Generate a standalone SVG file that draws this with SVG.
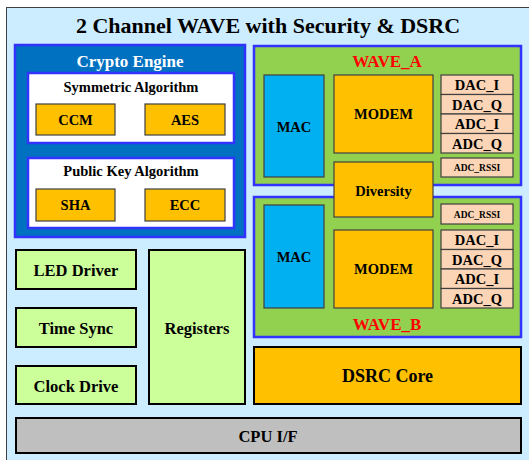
<svg xmlns="http://www.w3.org/2000/svg" width="529" height="460" viewBox="0 0 529 460" font-family="'Liberation Serif', 'Times New Roman', serif">
<style>
text{font-family:'Liberation Serif','Times New Roman',serif;font-weight:bold;text-anchor:middle;dominant-baseline:central;fill:#000}
.grp{stroke:#3333FF;stroke-width:2.5}
.blk{stroke:#000;stroke-width:2}
.thin{stroke:#404040;stroke-width:1.2}
.org{fill:#FFC000}
.lg{fill:#CCFF99}
.pch{fill:#FBD5B5}
.t13{font-size:14.5px}
.t14{font-size:16.5px}
.rs{font-size:9.5px}
</style>
<rect width="529" height="460" fill="#fff"/>
<rect x="6.5" y="7.5" width="530" height="460" fill="#CCECFF" stroke="#404040" stroke-width="1"/>
<text x="268" y="25" font-size="22">2 Channel WAVE  with Security &amp; DSRC</text>
<g id="crypto">
<rect x="15" y="45" width="230" height="192" fill="#0070C0" class="grp"/>
<text x="130" y="61" font-size="17" style="fill:#fff">Crypto Engine</text>
</g>
<g id="symmetric">
<rect x="28" y="73" width="206" height="70" fill="#fff" class="grp"/>
<text x="131" y="87" class="t13">Symmetric  Algorithm</text>
</g>
<g id="ccm"><rect x="36" y="104" width="79" height="31" class="org thin"/><text x="75.5" y="120" class="t13">CCM</text></g>
<g id="aes"><rect x="145" y="104" width="80" height="31" class="org thin"/><text x="185" y="120" class="t13">AES</text></g>
<g id="pubkey">
<rect x="28" y="158" width="206" height="70" fill="#fff" class="grp"/>
<text x="131" y="171" class="t13">Public  Key Algorithm</text>
</g>
<g id="sha"><rect x="36" y="189" width="79" height="32" class="org thin"/><text x="75.5" y="205" class="t13">SHA</text></g>
<g id="ecc"><rect x="145" y="189" width="80" height="32" class="org thin"/><text x="185" y="205" class="t13">ECC</text></g>

<g id="wave_a">
<rect x="254" y="46" width="267" height="139" fill="#92D050" class="grp"/>
<text x="387" y="61" font-size="17" style="fill:#FF0000">WAVE_A</text>
</g>
<g id="mac_a"><rect x="264" y="75" width="60" height="102" fill="#00B0F0" class="thin"/><text x="294" y="127" class="t13">MAC</text></g>
<g id="modem_a"><rect x="334" y="75" width="99" height="78" class="org thin"/><text x="383.5" y="114" class="t13">MODEM</text></g>
<g id="dac_a">
<rect x="441" y="75" width="72" height="19.5" class="pch thin"/><text x="477" y="85" class="t13">DAC_I</text>
<rect x="441" y="94.5" width="72" height="19.5" class="pch thin"/><text x="477" y="104.5" class="t13">DAC_Q</text>
<rect x="441" y="114" width="72" height="19.5" class="pch thin"/><text x="477" y="124" class="t13">ADC_I</text>
<rect x="441" y="133.5" width="72" height="19.5" class="pch thin"/><text x="477" y="143.5" class="t13">ADC_Q</text>
</g>
<g id="rssi_a"><rect x="441" y="158" width="72" height="19" class="pch thin"/><text x="477" y="168" class="rs">ADC_RSSI</text></g>

<g id="wave_b">
<rect x="254" y="197" width="267" height="140" fill="#92D050" class="grp"/>
<text x="387" y="324" font-size="17" style="fill:#FF0000">WAVE_B</text>
</g>
<g id="mac_b"><rect x="264" y="205" width="60" height="103" fill="#00B0F0" class="thin"/><text x="294" y="257" class="t13">MAC</text></g>
<g id="modem_b"><rect x="334" y="230" width="99" height="78" class="org thin"/><text x="383.5" y="269" class="t13">MODEM</text></g>
<g id="rssi_b"><rect x="441" y="204" width="72" height="20" class="pch thin"/><text x="477" y="214.5" class="rs">ADC_RSSI</text></g>
<g id="dac_b">
<rect x="441" y="230" width="72" height="19.5" class="pch thin"/><text x="477" y="240" class="t13">DAC_I</text>
<rect x="441" y="249.5" width="72" height="19.5" class="pch thin"/><text x="477" y="259.5" class="t13">DAC_Q</text>
<rect x="441" y="269" width="72" height="19.5" class="pch thin"/><text x="477" y="279" class="t13">ADC_I</text>
<rect x="441" y="288.5" width="72" height="19.5" class="pch thin"/><text x="477" y="298.5" class="t13">ADC_Q</text>
</g>
<g id="diversity"><rect x="334" y="162" width="99" height="55" class="org thin"/><text x="383.5" y="191" class="t13">Diversity</text></g>

<g id="led"><rect x="16" y="250" width="120" height="39" class="lg blk"/><text x="76" y="270" class="t14">LED Driver</text></g>
<g id="timesync"><rect x="16" y="308" width="120" height="39" class="lg blk"/><text x="76" y="328" class="t14">Time Sync</text></g>
<g id="clock"><rect x="16" y="366" width="120" height="38" class="lg blk"/><text x="76" y="386" class="t14">Clock Drive</text></g>
<g id="registers"><rect x="149" y="250" width="96" height="154" class="lg blk"/><text x="197" y="328" class="t14">Registers</text></g>
<g id="dsrc"><rect x="254" y="347" width="267" height="57" class="org blk"/><text x="387.5" y="376" font-size="18">DSRC Core</text></g>
<g id="cpu"><rect x="16" y="418" width="505" height="35" fill="#BFBFBF" class="blk"/><text x="268" y="436" font-size="16.5">CPU I/F</text></g>
<g id="connectors"></g>
</svg>
